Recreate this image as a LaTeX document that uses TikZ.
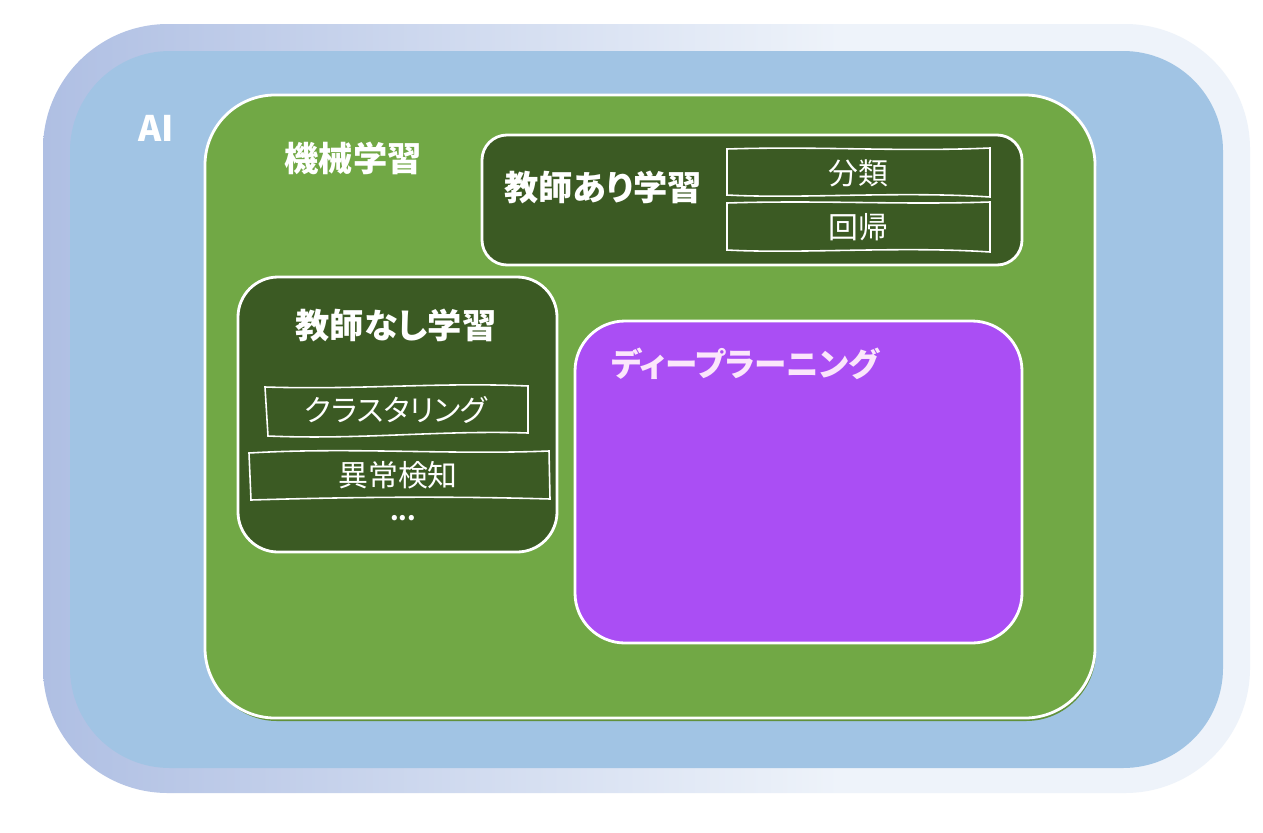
\documentclass[tikz,border=0pt]{standalone}
\usepackage{fontspec}
\newfontfamily\jp{Noto Sans CJK JP}[RawFeature=+palt]
\definecolor{lav}{HTML}{AFBFE3}
\definecolor{lightfr}{HTML}{EEF3FA}
\definecolor{aiblue}{HTML}{A1C4E4}
\definecolor{mlgreen}{HTML}{71A845}
\definecolor{darkg}{HTML}{3B5A23}
\definecolor{dlpurple}{HTML}{AA4EF4}
\definecolor{dltext}{HTML}{FBE6FB}
\pgfdeclarehorizontalshading{frameshade}{100bp}{color(0bp)=(lav); color(25bp)=(lav); color(58bp)=(lightfr); color(100bp)=(lightfr)}
\tikzset{
  title/.style={font=\jp\bfseries\fontsize{19.5}{21}\selectfont, text=white, inner sep=0pt},
  item/.style={font=\jp\fontsize{17}{19}\selectfont, text=white, inner sep=0pt},
  itembox/.style={draw=white, line width=0.9pt, fill=darkg},
  panel/.style={draw=white, line width=1.6pt},
}
\begin{document}
\begin{tikzpicture}[x=0.02cm,y=-0.02cm]
\useasboundingbox[fill=white] (0,0) rectangle (1263,832);
% outer frame
\path[shading=frameshade, rounded corners=2.5cm] (43,24) rectangle (1250,793);
\fill[aiblue, rounded corners=2cm] (70,51) rectangle (1223,768);
\node[font=\jp\bfseries\fontsize{20}{22}\selectfont, text=white, inner sep=0pt] (ai) at (156,128) {AI};
% machine learning
\fill[mlgreen!70!darkg, rounded corners=1.4cm] (207,97) rectangle (1096,721);
\draw[panel, fill=mlgreen, rounded corners=1.4cm] (205,95) rectangle (1095,718);
\node[title] (ml) at (353,158) {機械学習};
% supervised
\draw[panel, fill=darkg, rounded corners=0.5cm] (482,135) rectangle (1022,265);
\node[title, anchor=west] (sup) at (504,187) {教師あり学習};
\draw[itembox] (727,149) .. controls (820,146) and (900,152) .. (990,148) -- (990,197) .. controls (900,191) and (800,199) .. (727,195) -- cycle;
\node[item] (cls) at (858,173) {分類};
\draw[itembox] (727,203) .. controls (820,200) and (900,205) .. (990,202) -- (990,252) .. controls (900,246) and (800,254) .. (727,250) -- cycle;
\node[item] (reg) at (858,227) {回帰};
% unsupervised
\draw[panel, fill=darkg, rounded corners=0.8cm] (238,277) rectangle (557,552);
\node[title] (unsup) at (396,325) {教師なし学習};
\draw[itembox] (265,387) .. controls (360,390) and (440,382) .. (528,386) -- (528,433) .. controls (440,430) and (360,440) .. (268,436) -- cycle;
\node[item] (clu) at (396,410) {クラスタリング};
\draw[itembox] (249,453) .. controls (350,447) and (450,455) .. (549,451) -- (550,499) .. controls (450,496) and (350,497) .. (251,500) -- cycle;
\node[item] (anom) at (398,475) {異常検知};
\node[item, font=\jp\bfseries\fontsize{14}{16}\selectfont] (dots) at (403,518) {...};
% deep learning
\draw[panel, fill=dlpurple, rounded corners=1cm] (575,321) rectangle (1022,643);
\node[title, font=\jp\bfseries\fontsize{18.5}{20}\selectfont, text=dltext, anchor=west] (dl) at (611,364) {ディープラーニング};
\end{tikzpicture}
\end{document}
